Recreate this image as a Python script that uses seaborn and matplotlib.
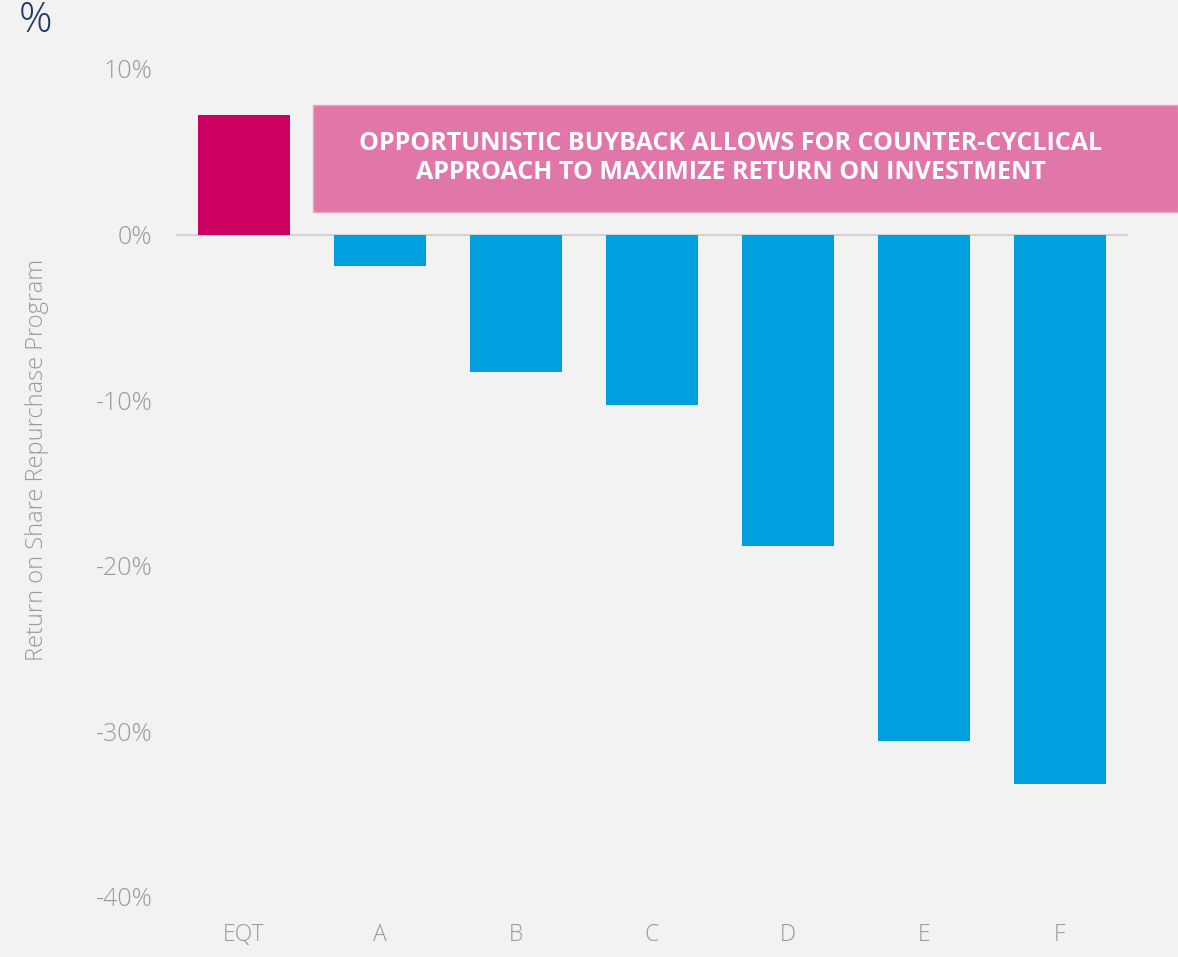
import matplotlib
matplotlib.use("Agg")
import matplotlib.pyplot as plt
from matplotlib.patches import Rectangle
import seaborn as sns
import pandas as pd

categories = ["EQT", "A", "B", "C", "D", "E", "F"]
values = [7.2, -1.9, -8.3, -10.3, -18.8, -30.6, -33.2]
bar_colors = ["#CC0060", "#00A0DF", "#00A0DF", "#00A0DF", "#00A0DF", "#00A0DF", "#00A0DF"]
y_ticks = [10, 0, -10, -20, -30, -40]
y_tick_labels = ["10%", "0%", "-10%", "-20%", "-30%", "-40%"]
y_label = "Return on Share Repurchase Program"
callout = "OPPORTUNISTIC BUYBACK ALLOWS FOR COUNTER-CYCLICAL\nAPPROACH TO MAXIMIZE RETURN ON INVESTMENT"

BG = "#F2F2F2"
sns.set_theme(style="white")
plt.rcParams["font.family"] = ["Open Sans", "DejaVu Sans"]

W, H = 1178, 957
fig = plt.figure(figsize=(W / 100, H / 100), dpi=100, facecolor=BG)
ax = fig.add_axes([176 / W, 1 - 897 / H, (1128 - 176) / W, (897 - 69) / H])
ax.set_facecolor(BG)

df = pd.DataFrame({"cat": categories, "val": values})
sns.barplot(data=df, x="cat", y="val", hue="cat", palette=bar_colors,
            legend=False, width=0.67, saturation=1, ax=ax, linewidth=0)

ax.set_xlim(-0.5, 6.5)
ax.set_ylim(-40, 10)
ax.axhline(0, color="#D4D4D4", linewidth=1.6, zorder=0)
for s in ax.spines.values():
    s.set_visible(False)

ax.set_yticks(y_ticks)
ax.set_yticklabels(y_tick_labels)
ax.tick_params(axis="y", length=0, pad=17, labelsize=18, labelcolor="#9A9A9A")
ax.tick_params(axis="x", length=0, pad=19, labelsize=16.5, labelcolor="#9A9A9A")
for lab in ax.get_xticklabels() + ax.get_yticklabels():
    lab.set_fontweight("light")
ax.set_xlabel("")
ax.set_ylabel("")

fig.text(37 / W, 1 - 460 / H, y_label, rotation=90, ha="center", va="center",
         fontsize=17, color="#9A9A9A", fontweight="light")
fig.text(19 / W, 1 - 21 / H, "%", ha="left", va="center", fontsize=30,
         color="#1F3864", fontweight="light")

rect = Rectangle((313 / W, 1 - 212 / H), (W - 313) / W, (212 - 105) / H,
                 transform=fig.transFigure, facecolor="#E077A8",
                 edgecolor="#E9A3C4", linewidth=1, zorder=5)
fig.patches.append(rect)
fig.text(731 / W, 1 - 158 / H, callout, ha="center", va="center",
         fontsize=18, color="white", fontweight="bold", linespacing=1.25,
         zorder=6)

fig.savefig("out.png", dpi=100, facecolor=BG)
